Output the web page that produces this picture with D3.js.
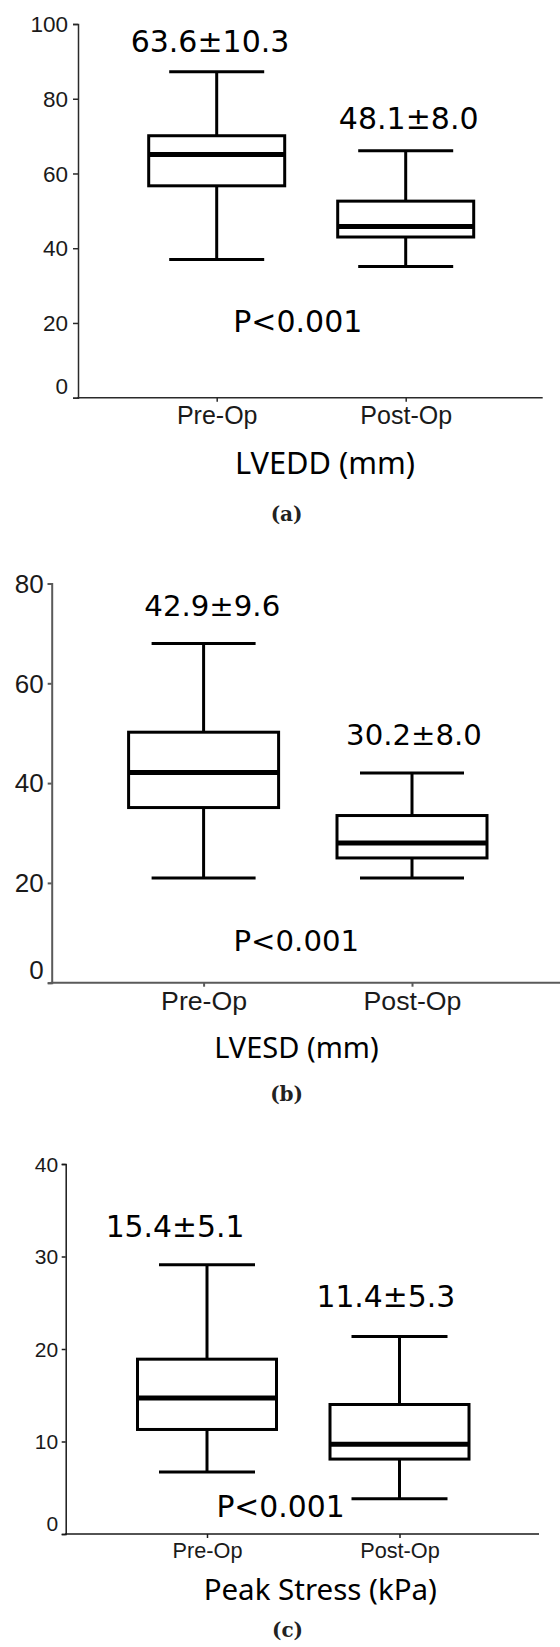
<!DOCTYPE html>
<html>
<head>
<meta charset="utf-8">
<script src="https://cdn.jsdelivr.net/npm/d3@7"></script>
<style>
  html, body { margin: 0; padding: 0; background: #fff; }
  svg { display: block; }
</style>
</head>
<body>
<svg id="chart" width="560" height="1647"></svg>
<script>
// ---------- DATA ----------
const categories = ["Pre-Op", "Post-Op"];

// (a) LVEDD (mm)
const lveddLow  = [37.0, 35.1];
const lveddQ1   = [56.7, 43.0];
const lveddMed  = [65.1, 45.8];
const lveddQ3   = [70.1, 52.6];
const lveddHigh = [87.2, 66.1];
const lveddTicks = [0, 20, 40, 60, 80, 100];
const lveddMeanSd = ["63.6±10.3", "48.1±8.0"];

// (b) LVESD (mm)
const lvesdLow  = [21.0, 21.0];
const lvesdQ1   = [35.1, 25.0];
const lvesdMed  = [42.1, 28.0];
const lvesdQ3   = [50.2, 33.5];
const lvesdHigh = [68.0, 42.0];
const lvesdTicks = [0, 20, 40, 60, 80];
const lvesdMeanSd = ["42.9±9.6", "30.2±8.0"];

// (c) Peak Stress (kPa)
const stressLow  = [6.7, 3.8];
const stressQ1   = [11.3, 8.1];
const stressMed  = [14.7, 9.7];
const stressQ3   = [18.9, 14.0];
const stressHigh = [29.1, 21.35];
const stressTicks = [0, 10, 20, 30, 40];
const stressMeanSd = ["15.4±5.1", "11.4±5.3"];

const pText = "P<0.001";
const titles = ["LVEDD (mm)", "LVESD (mm)", "Peak Stress (kPa)"];
const captions = ["(a)", "(b)", "(c)"];

// ---------- LAYOUT ----------
const panels = [
  { low: lveddLow, q1: lveddQ1, med: lveddMed, q3: lveddQ3, high: lveddHigh, ticks: lveddTicks, ann: lveddMeanSd,
    title: titles[0], caption: captions[0],
    axX: 78, xEnd: 542.7, y0: 397.7, yTop: 24, xPos: [216.7, 405.7], boxW: 136, capW: 95,
    annOff: [20, 21.7], annDx: [-6.7, 3], annSize: 30, pX: 297.8, pY: 331.7,
    titleX: 325, titleY: 474, titleSize: 30.8, capX: 286.6, capY: 521,
    axColor: "#2a2a2a", axW: 1.5, yTickSize: 22.5, yTickLen: 5, yPad: 5, xTickSize: 25, xTickBase: 424 },
  { low: lvesdLow, q1: lvesdQ1, med: lvesdMed, q3: lvesdQ3, high: lvesdHigh, ticks: lvesdTicks, ann: lvesdMeanSd,
    title: titles[1], caption: captions[1],
    axX: 51.7, xEnd: 560, y0: 982.7, yTop: 583.5, xPos: [203.6, 412], boxW: 150, capW: 104,
    annOff: [27, 28], annDx: [8.7, 2], annSize: 29.2, pX: 296.3, pY: 950.7,
    titleX: 296.4, titleY: 1058, titleSize: 29, capX: 286.6, capY: 1101,
    axColor: "#5a5a5a", axW: 2, yTickSize: 26, yTickLen: 4, yPad: 4, xTickSize: 26.7, xTickBase: 1010 },
  { low: stressLow, q1: stressQ1, med: stressMed, q3: stressQ3, high: stressHigh, ticks: stressTicks, ann: stressMeanSd,
    title: titles[2], caption: captions[2],
    axX: 65.7, xEnd: 539, y0: 1534, yTop: 1164, xPos: [207, 399.5], boxW: 139, capW: 96,
    annOff: [27.6, 29.3], annDx: [-32, -13.7], annSize: 29.8, pX: 280.5, pY: 1517.3,
    titleX: 320.3, titleY: 1600, titleSize: 29.5, capX: 287.5, capY: 1637,
    axColor: "#1a1a1a", axW: 1.5, yTickSize: 21, yTickLen: 4, yPad: 3.5, xTickSize: 21.7, xTickBase: 1558 }
];

const svg = d3.select("#chart");
const annFont = "'DejaVu Sans', Verdana, sans-serif";
const tickFont = "'Liberation Sans', Arial, sans-serif";
const titleFont = "'Noto Sans', 'Open Sans', sans-serif";

panels.forEach(p => {
  const g = svg.append("g");
  const y = d3.scaleLinear().domain([0, d3.max(p.ticks)]).range([p.y0, p.yTop]);
  const x = d3.scalePoint().domain(categories).range(p.xPos);

  // Y axis
  const yAxis = g.append("g").attr("transform", `translate(${p.axX},0)`)
    .call(d3.axisLeft(y).tickValues(p.ticks).tickSize(p.yTickLen).tickPadding(p.yPad).tickFormat(d3.format("d")));
  yAxis.select(".domain").attr("stroke", p.axColor).attr("stroke-width", p.axW);
  yAxis.selectAll(".tick line").attr("stroke", p.axColor).attr("stroke-width", p.axW);
  yAxis.selectAll(".tick text")
    .attr("font-family", tickFont).attr("font-size", p.yTickSize).attr("fill", "#1a1a1a")
    .attr("dy", d => d === 0 ? "-0.18em" : "0.34em");

  // X axis
  const xAxis = g.append("g").attr("transform", `translate(0,${p.y0})`)
    .call(d3.axisBottom(x).tickSize(4).tickPadding(0));
  xAxis.select(".domain").remove();
  xAxis.insert("line", ":first-child")
    .attr("x1", p.axX - p.axW / 2).attr("x2", p.xEnd).attr("y1", 0).attr("y2", 0)
    .attr("stroke", p.axColor).attr("stroke-width", p.axW);
  xAxis.selectAll(".tick line").attr("stroke", p.axColor).attr("stroke-width", p.axW);
  xAxis.selectAll(".tick text")
    .attr("font-family", tickFont).attr("font-size", p.xTickSize).attr("fill", "#1a1a1a")
    .attr("y", p.xTickBase - p.y0).attr("dy", 0);

  // Boxes
  const rows = categories.map((c, i) => ({ c, i, low: p.low[i], q1: p.q1[i], med: p.med[i], q3: p.q3[i], high: p.high[i] }));
  const bx = g.selectAll(".box").data(rows).join("g").attr("class", "box");
  // whiskers
  bx.append("line").attr("x1", d => x(d.c)).attr("x2", d => x(d.c))
    .attr("y1", d => y(d.high)).attr("y2", d => y(d.q3)).attr("stroke", "#000").attr("stroke-width", 3);
  bx.append("line").attr("x1", d => x(d.c)).attr("x2", d => x(d.c))
    .attr("y1", d => y(d.q1)).attr("y2", d => y(d.low)).attr("stroke", "#000").attr("stroke-width", 3);
  // caps
  bx.append("line").attr("x1", d => x(d.c) - p.capW / 2).attr("x2", d => x(d.c) + p.capW / 2)
    .attr("y1", d => y(d.high)).attr("y2", d => y(d.high)).attr("stroke", "#000").attr("stroke-width", 3);
  bx.append("line").attr("x1", d => x(d.c) - p.capW / 2).attr("x2", d => x(d.c) + p.capW / 2)
    .attr("y1", d => y(d.low)).attr("y2", d => y(d.low)).attr("stroke", "#000").attr("stroke-width", 3);
  // box
  bx.append("rect").attr("x", d => x(d.c) - p.boxW / 2).attr("width", p.boxW)
    .attr("y", d => y(d.q3)).attr("height", d => y(d.q1) - y(d.q3))
    .attr("fill", "#fff").attr("stroke", "#000").attr("stroke-width", 3);
  // median
  bx.append("line").attr("x1", d => x(d.c) - p.boxW / 2).attr("x2", d => x(d.c) + p.boxW / 2)
    .attr("y1", d => y(d.med)).attr("y2", d => y(d.med)).attr("stroke", "#000").attr("stroke-width", 5);
  // mean ± sd annotations
  bx.append("text").attr("x", d => x(d.c) + p.annDx[d.i]).attr("y", d => y(d.high) - p.annOff[d.i])
    .attr("text-anchor", "middle").attr("font-family", annFont).attr("font-size", p.annSize)
    .attr("fill", "#000").text(d => p.ann[d.i]);

  // P value
  g.append("text").attr("x", p.pX).attr("y", p.pY).attr("text-anchor", "middle")
    .attr("font-family", annFont).attr("font-size", p.annSize).attr("fill", "#000").text(pText);

  // axis title
  g.append("text").attr("x", p.titleX).attr("y", p.titleY).attr("text-anchor", "middle")
    .attr("font-family", titleFont).attr("font-size", p.titleSize).attr("fill", "#000").text(p.title);

  // caption
  g.append("text").attr("x", p.capX).attr("y", p.capY).attr("text-anchor", "middle")
    .attr("font-family", "'DejaVu Serif', serif").attr("font-weight", "bold").attr("font-size", 20)
    .attr("fill", "#222").text(p.caption);
});
</script>
</body>
</html>
